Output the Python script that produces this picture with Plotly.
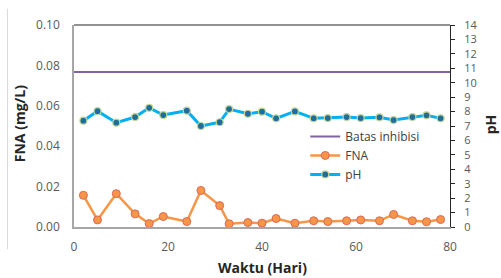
import plotly.graph_objects as go

days = [2, 5, 9, 13, 16, 19, 24, 27, 31, 33, 37, 40, 43, 47, 51, 54, 58, 61, 65, 68, 72, 75, 78]
fna = [0.0157, 0.0035, 0.0165, 0.0065, 0.0017, 0.0052, 0.0027, 0.0181, 0.0106, 0.0016, 0.0022, 0.0019,
       0.0042, 0.0019, 0.0031, 0.0027, 0.0031, 0.0035, 0.0031, 0.0062, 0.0031, 0.0026, 0.0037]
ph = [7.37, 8.03, 7.23, 7.62, 8.26, 7.76, 8.06, 7.00, 7.26, 8.17, 7.85, 7.99,
      7.53, 8.01, 7.53, 7.55, 7.62, 7.55, 7.60, 7.41, 7.62, 7.74, 7.53]
batas_x = [0, 80]
batas_y = [0.0767, 0.0767]

x_ticks = [0, 20, 40, 60, 80]
y_left_ticks = [0.00, 0.02, 0.04, 0.06, 0.08, 0.10]
y_right_ticks = list(range(0, 15))

FONT = "'Open Sans', sans-serif"
GRAY = "#595959"
DARK = "#262626"

fig = go.Figure()
fig.add_trace(go.Scatter(x=batas_x, y=batas_y, mode="lines", name="Batas inhibisi",
                         line=dict(color="#8064A2", width=2)))
fig.add_trace(go.Scatter(x=days, y=fna, mode="lines+markers", name="FNA",
                         line=dict(color="#F79646", width=2.5),
                         marker=dict(color="#F79646", size=8, line=dict(color="#D9695A", width=1))))
fig.add_trace(go.Scatter(x=days, y=ph, mode="lines+markers", name="pH", yaxis="y2",
                         line=dict(color="#00B0F0", width=3),
                         marker=dict(color="#1F6E9A", size=7, line=dict(color="#C3D69B", width=1.2))))

fig.update_layout(
    width=501, height=278,
    margin=dict(l=73.5, r=51, t=24.5, b=50.5, autoexpand=False),
    paper_bgcolor="white", plot_bgcolor="white",
    font=dict(family=FONT, size=12, color=GRAY),
    showlegend=True,
    legend=dict(x=0.615, y=0.52, xanchor="left", yanchor="top",
                bgcolor="rgba(0,0,0,0)", font=dict(size=12, color="#404040"),
                tracegroupgap=0, itemwidth=30),
    xaxis=dict(range=[0, 80], tickvals=x_ticks, showgrid=False, zeroline=False, automargin=False,
               showline=True, linecolor="#A6A6A6", linewidth=1.5,
               ticks="outside", ticklen=8, tickcolor="rgba(0,0,0,0)"),
    yaxis=dict(range=[0, 0.1], tickvals=y_left_ticks, tickformat=".2f", showgrid=False, zeroline=False,
               automargin=False, showline=True, linecolor="#A6A6A6", linewidth=1.5,
               ticks="outside", ticklen=10, tickcolor="rgba(0,0,0,0)"),
    yaxis2=dict(range=[0, 14], tickvals=y_right_ticks, overlaying="y", side="right", automargin=False,
                showgrid=False, zeroline=False, showline=True, linecolor=DARK, linewidth=1.2,
                ticks="outside", ticklen=4, tickcolor=DARK, ticklabelstandoff=7,
                tickfont=dict(size=11, color=GRAY)),
    shapes=[
        dict(type="line", xref="paper", yref="paper", x0=0, x1=1, y0=1, y1=1,
             line=dict(color=DARK, width=1.2)),
        dict(type="line", xref="paper", yref="paper", x0=-0.177, x1=-0.177, y0=-0.11, y1=1.08,
             line=dict(color="#D9D9D9", width=1)),
    ],
    annotations=[
        dict(text="<b>Waktu (Hari)</b>", xref="paper", yref="paper", x=0.5, y=-0.20,
             xanchor="center", yanchor="middle", showarrow=False, font=dict(size=14, color=DARK)),
        dict(text="<b>FNA (mg/L)</b>", xref="paper", yref="paper", x=-0.143, y=0.51,
             xanchor="center", yanchor="middle", textangle=-90, showarrow=False,
             font=dict(size=14, color=DARK)),
        dict(text="<b>pH</b>", xref="paper", yref="paper", x=1.11, y=0.51,
             xanchor="center", yanchor="middle", textangle=-90, showarrow=False,
             font=dict(size=14, color=DARK)),
    ],
)

fig.write_html("out.html", config={"displayModeBar": False},
               post_script="document.body.style.margin='0';")
